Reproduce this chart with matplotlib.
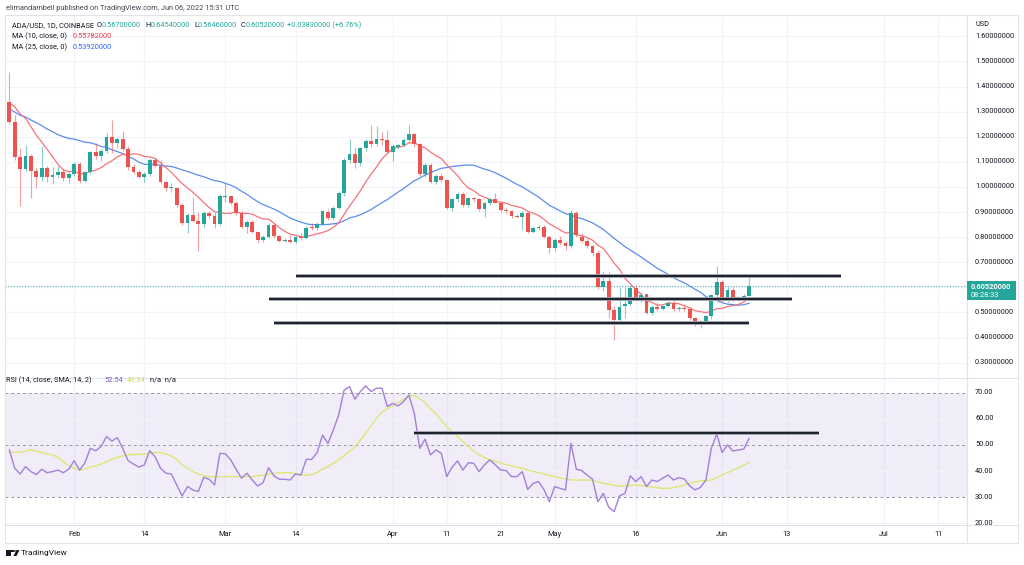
import numpy as np
import matplotlib
matplotlib.use('Agg')
import matplotlib.pyplot as plt
import pandas as pd
from matplotlib.patches import Rectangle, Polygon, Circle
from matplotlib.lines import Line2D

plt.rcParams['font.family'] = ['Roboto', 'DejaVu Sans']

# ---------------- data ----------------
start_date = '2022-01-20'

opens = [1.340, 1.260, 1.121, 1.070, 1.125, 1.065, 1.041, 1.077, 1.041, 1.046,
         1.058, 1.034, 1.052, 1.093, 1.024, 1.058, 1.139, 1.124, 1.144, 1.198,
         1.176, 1.193, 1.150, 1.078, 1.060, 1.041, 1.050, 1.108, 1.084, 1.019,
         0.995, 0.997, 0.928, 0.855, 0.888, 0.864, 0.852, 0.897, 0.884, 0.852,
         0.960, 0.963, 0.937, 0.898, 0.841, 0.861, 0.821, 0.788, 0.799, 0.848,
         0.804, 0.786, 0.789, 0.782, 0.800, 0.797, 0.840, 0.836, 0.853, 0.901,
         0.875, 0.918, 0.975, 1.108, 1.131, 1.094, 1.154, 1.184, 1.170, 1.190,
         1.187, 1.141, 1.158, 1.167, 1.187, 1.211, 1.171, 1.052, 1.088, 1.021,
         1.044, 1.028, 0.918, 0.951, 0.971, 0.928, 0.955, 0.951, 0.911, 0.935,
         0.951, 0.938, 0.908, 0.904, 0.884, 0.882, 0.895, 0.822, 0.838, 0.842,
         0.802, 0.756, 0.789, 0.776, 0.765, 0.898, 0.800, 0.785, 0.763, 0.738,
         0.600, 0.625, 0.510, 0.470, 0.526, 0.534, 0.596, 0.553, 0.572, 0.499,
         0.523, 0.513, 0.526, 0.537, 0.513, 0.517, 0.513, 0.477, 0.450, 0.465,
         0.485, 0.570, 0.623, 0.547, 0.590, 0.555, 0.560, 0.567]
highs = [1.459, 1.287, 1.154, 1.167, 1.130, 1.075, 1.163, 1.085, 1.080, 1.083,
         1.070, 1.060, 1.100, 1.098, 1.065, 1.145, 1.175, 1.150, 1.214, 1.267,
         1.200, 1.223, 1.163, 1.090, 1.068, 1.058, 1.114, 1.115, 1.108, 1.025,
         1.015, 1.000, 0.935, 0.895, 0.962, 0.900, 0.905, 0.905, 0.900, 0.970,
         1.015, 0.968, 0.945, 0.905, 0.868, 0.868, 0.826, 0.808, 0.855, 0.854,
         0.810, 0.798, 0.810, 0.805, 0.815, 0.845, 0.855, 0.860, 0.910, 0.912,
         0.925, 0.985, 1.115, 1.190, 1.161, 1.160, 1.190, 1.247, 1.243, 1.220,
         1.227, 1.170, 1.172, 1.195, 1.247, 1.216, 1.175, 1.095, 1.095, 1.052,
         1.055, 1.032, 0.958, 0.980, 0.978, 0.962, 0.962, 0.958, 0.940, 0.958,
         0.974, 0.942, 0.915, 0.910, 0.892, 0.905, 0.900, 0.845, 0.850, 0.848,
         0.808, 0.795, 0.805, 0.785, 0.910, 0.905, 0.815, 0.795, 0.770, 0.749,
         0.663, 0.663, 0.525, 0.603, 0.603, 0.610, 0.610, 0.580, 0.575, 0.530,
         0.540, 0.530, 0.545, 0.555, 0.525, 0.525, 0.518, 0.482, 0.470, 0.490,
         0.575, 0.685, 0.630, 0.600, 0.603, 0.565, 0.575, 0.6454]
lows = [1.250, 1.108, 0.924, 1.065, 0.955, 0.995, 1.025, 1.020, 1.010, 1.034,
        1.025, 1.015, 1.045, 1.015, 1.020, 1.050, 1.110, 1.105, 1.135, 1.135,
        1.155, 1.145, 1.068, 1.050, 1.034, 1.020, 1.045, 1.080, 1.010, 0.985,
        0.980, 0.920, 0.850, 0.815, 0.860, 0.746, 0.840, 0.875, 0.835, 0.845,
        0.940, 0.930, 0.890, 0.835, 0.815, 0.815, 0.778, 0.782, 0.795, 0.798,
        0.780, 0.780, 0.776, 0.776, 0.790, 0.793, 0.830, 0.830, 0.848, 0.868,
        0.870, 0.912, 0.965, 1.095, 1.074, 1.085, 1.145, 1.160, 1.165, 1.167,
        1.135, 1.105, 1.150, 1.160, 1.180, 1.160, 1.045, 1.040, 1.015, 1.010,
        1.020, 0.912, 0.905, 0.940, 0.922, 0.920, 0.940, 0.905, 0.880, 0.928,
        0.935, 0.900, 0.895, 0.878, 0.875, 0.829, 0.815, 0.815, 0.830, 0.795,
        0.736, 0.745, 0.768, 0.750, 0.755, 0.800, 0.775, 0.755, 0.725, 0.595,
        0.585, 0.480, 0.390, 0.465, 0.480, 0.525, 0.545, 0.540, 0.495, 0.490,
        0.505, 0.508, 0.520, 0.505, 0.505, 0.505, 0.470, 0.445, 0.440, 0.455,
        0.475, 0.560, 0.540, 0.540, 0.545, 0.545, 0.550, 0.5646]
closes = [1.260, 1.121, 1.070, 1.125, 1.065, 1.041, 1.077, 1.041, 1.046, 1.058,
          1.034, 1.052, 1.093, 1.024, 1.058, 1.139, 1.124, 1.144, 1.198, 1.176,
          1.193, 1.150, 1.078, 1.060, 1.041, 1.050, 1.108, 1.084, 1.019, 0.995,
          0.997, 0.928, 0.855, 0.888, 0.864, 0.852, 0.897, 0.884, 0.852, 0.963,
          0.963, 0.937, 0.898, 0.841, 0.861, 0.821, 0.788, 0.799, 0.848, 0.804,
          0.786, 0.789, 0.782, 0.799, 0.797, 0.838, 0.836, 0.853, 0.904, 0.875,
          0.918, 0.975, 1.108, 1.131, 1.094, 1.154, 1.184, 1.170, 1.190, 1.187,
          1.141, 1.163, 1.167, 1.187, 1.211, 1.171, 1.052, 1.088, 1.021, 1.044,
          1.028, 0.918, 0.951, 0.971, 0.928, 0.955, 0.951, 0.911, 0.935, 0.951,
          0.938, 0.908, 0.904, 0.884, 0.882, 0.895, 0.822, 0.838, 0.842, 0.802,
          0.756, 0.789, 0.776, 0.765, 0.898, 0.809, 0.785, 0.763, 0.738, 0.600,
          0.625, 0.510, 0.470, 0.523, 0.534, 0.596, 0.553, 0.570, 0.499, 0.523,
          0.513, 0.526, 0.537, 0.513, 0.517, 0.513, 0.477, 0.450, 0.465, 0.485,
          0.570, 0.623, 0.547, 0.590, 0.555, 0.560, 0.567, 0.6052]
# closes before the first visible candle (Dec 27 - Jan 19), used only to warm up the moving averages
prior_closes = [1.44, 1.38, 1.30, 1.36, 1.31, 1.38, 1.37, 1.31, 1.35, 1.24, 1.22, 1.17,
                1.17, 1.22, 1.19, 1.29, 1.35, 1.30, 1.40, 1.38, 1.35, 1.33, 1.34, 1.36]

rsi = [48.1, 41.1, 38.9, 41.7, 39.8, 38.7, 40.7, 39.4, 39.8, 40.4,
       39.4, 40.7, 44.0, 40.4, 43.2, 48.7, 47.8, 49.4, 53.2, 51.5,
       52.8, 48.7, 44.0, 42.7, 41.5, 42.4, 47.8, 45.5, 41.1, 39.2,
       38.9, 34.7, 30.5, 34.1, 32.8, 32.2, 37.6, 36.9, 34.7, 46.8,
       46.6, 44.3, 40.7, 37.3, 39.2, 36.6, 34.3, 35.6, 41.3, 38.2,
       36.9, 36.9, 36.6, 38.9, 38.5, 44.5, 44.5, 47.1, 53.8, 50.6,
       55.7, 61.5, 71.0, 72.3, 67.5, 70.4, 72.6, 70.4, 71.7, 71.7,
       64.7, 65.9, 64.9, 66.6, 69.1, 62.1, 48.7, 52.2, 46.2, 48.1,
       46.8, 37.9, 41.5, 43.9, 40.4, 43.2, 43.0, 39.8, 42.4, 44.3,
       42.4, 40.4, 40.2, 37.9, 37.9, 39.8, 33.0, 35.3, 36.0, 33.0,
       28.3, 34.1, 33.4, 32.8, 50.6, 40.7, 40.2, 38.5, 36.9, 28.3,
       31.5, 26.2, 24.5, 30.5, 31.5, 38.2, 36.0, 37.9, 34.1, 36.6,
       36.0, 37.3, 38.5, 36.6, 37.5, 37.0, 34.3, 32.8, 33.8, 36.6,
       48.7, 54.2, 47.1, 50.0, 47.7, 48.1, 48.4, 52.54]
rsi_sma = [47.2, 47.2, 47.2, 47.6, 48.1, 47.7, 47.1, 46.6, 46.2, 45.3,
           43.6, 42.0, 41.1, 40.4, 40.8, 41.5, 42.0, 42.7, 43.6, 44.5,
           45.3, 45.8, 46.2, 46.3, 46.4, 46.6, 46.8, 47.1, 47.1, 46.6,
           45.8, 44.5, 42.4, 41.1, 39.8, 38.9, 38.2, 37.9, 37.9, 37.9,
           37.9, 37.9, 37.9, 37.9, 37.9, 37.9, 38.2, 38.4, 38.8, 39.2,
           39.4, 39.4, 39.4, 39.0, 38.6, 38.4, 38.7, 39.4, 40.8, 41.7,
           43.0, 44.3, 45.9, 47.6, 49.4, 51.7, 54.5, 57.4, 60.2, 62.5,
           63.9, 65.0, 66.2, 67.5, 68.6, 68.9, 67.7, 66.3, 63.6, 62.1,
           59.3, 57.0, 55.1, 53.2, 51.3, 49.4, 47.7, 46.2, 45.2, 44.3,
           43.8, 43.1, 42.5, 42.0, 41.5, 41.1, 40.4, 39.9, 39.4, 38.9,
           38.4, 37.9, 37.4, 36.9, 36.6, 36.6, 36.6, 36.6, 36.5, 36.0,
           35.3, 35.0, 34.5, 34.3, 34.3, 34.5, 34.7, 34.5, 34.2, 34.0,
           33.6, 33.4, 33.4, 33.7, 34.1, 34.7, 35.2, 35.9, 36.2, 36.4,
           36.6, 37.5, 38.5, 39.4, 40.4, 41.3, 42.2, 43.34]

price_ticks = [0.3, 0.4, 0.5, 0.6, 0.7, 0.8, 0.9, 1.0, 1.1, 1.2, 1.3, 1.4, 1.5, 1.6]
rsi_ticks = [20, 30, 40, 50, 60, 70]
time_tick_dates = ['2022-02-01', '2022-02-14', '2022-03-01', '2022-03-14', '2022-04-01',
                   '2022-04-11', '2022-04-21', '2022-05-01', '2022-05-16', '2022-06-01',
                   '2022-06-13', '2022-07-01', '2022-07-11']
time_tick_labels = ['Feb', '14', 'Mar', '14', 'Apr', '11', '21', 'May', '16', 'Jun', '13', 'Jul', '11']

# hand-drawn horizontal levels (price, start date, end date)
level_prices = [0.645, 0.554, 0.458]
level_starts = ['2022-03-14', '2022-03-09', '2022-03-10']
level_ends = ['2022-06-23', '2022-06-14', '2022-06-06']
rsi_level = 54.6
rsi_level_start = '2022-04-05'
rsi_level_end = '2022-06-19'

last_price = 0.6052

# ---------------- helpers ----------------
W, H = 1024, 565
t0 = pd.Timestamp(start_date)


def day_index(d):
    return (pd.Timestamp(d) - t0).days


def fx(x):
    return x / W


def fy(y):
    return 1 - y / H


def rect(x0, y0, x1, y1):
    return [fx(x0), fy(y1), (x1 - x0) / W, (y1 - y0) / H]


UP = '#26a69a'
DOWN = '#ef5350'
GRID = '#f0f3fa'
BORDER = '#e0e3eb'
TXT = '#131722'
FS = 5.3

fig = plt.figure(figsize=(W / 100, H / 100), dpi=100)
fig.patch.set_facecolor('white')

ax = fig.add_axes(rect(5, 15, 967, 378))
ax2 = fig.add_axes(rect(5, 378, 967, 525))

n = len(closes)
xs = np.arange(n)
xlim = (-0.8, 177.35)

for a in (ax, ax2):
    a.set_xlim(*xlim)
    for s in a.spines.values():
        s.set_visible(False)
    a.set_xticks([])
    a.set_yticks([])
    a.set_facecolor('white')

tick_x = [day_index(d) for d in time_tick_dates]

# price pane
ax.set_ylim(0.239, 1.685)
for p in price_ticks:
    ax.axhline(p, color=GRID, lw=0.8, zorder=0)
for tx in tick_x:
    ax.axvline(tx, color=GRID, lw=0.8, zorder=0)
    ax2.axvline(tx, color=GRID, lw=0.8, zorder=0)

# moving averages
all_closes = pd.Series(prior_closes + closes)
ma10 = all_closes.rolling(10).mean().values[len(prior_closes):]
ma25 = all_closes.rolling(25).mean().values[len(prior_closes):]
ax.plot(xs, ma25, color='#5b8def', lw=0.9, zorder=2)
ax.plot(xs, ma10, color='#f7727a', lw=0.9, zorder=2)

# candles
for i in range(n):
    o, h, l, c = opens[i], highs[i], lows[i], closes[i]
    col = UP if c >= o else DOWN
    ax.vlines(i, l, h, color=col, lw=0.8, alpha=0.55, zorder=3)
    bot = min(o, c)
    hgt = max(abs(c - o), 0.003)
    ax.add_patch(Rectangle((i - 0.36, bot), 0.72, hgt, facecolor=col, edgecolor='none', zorder=4))

# last price dotted line
ax.axhline(last_price, color=UP, lw=0.8, ls=(0, (1, 1.5)), alpha=0.8, zorder=2)

# drawn levels
for p, s, e in zip(level_prices, level_starts, level_ends):
    x0, x1 = day_index(s), day_index(e)
    ax.plot([x0, x1], [p, p], color='#b2b5be', lw=2.8, solid_capstyle='butt', zorder=5)
    ax.plot([x0, x1], [p, p], color='#1e222d', lw=1.6, solid_capstyle='butt', zorder=6)

# RSI pane
ax2.set_ylim(19.4, 75.6)
ax2.axhspan(30, 70, color='#7e57c2', alpha=0.1, lw=0, zorder=0)
for v in (40, 60, 20):
    ax2.axhline(v, color=GRID, lw=0.8, zorder=0)
for v in (30, 50, 70):
    ax2.axhline(v, color='#9598a1', lw=0.7, ls=(0, (3, 3)), zorder=1)
ax2.plot(xs, rsi_sma, color='#dce775', lw=1.0, zorder=2)
ax2.plot(xs, rsi, color='#a47fd9', lw=1.0, zorder=3)
x0, x1 = day_index(rsi_level_start), day_index(rsi_level_end)
ax2.plot([x0, x1], [rsi_level, rsi_level], color='#b2b5be', lw=2.8, solid_capstyle='butt', zorder=5)
ax2.plot([x0, x1], [rsi_level, rsi_level], color='#1e222d', lw=1.6, solid_capstyle='butt', zorder=6)

# right axis labels (the 0.6 label sits under the last-price box, as in the original)
for p in price_ticks:
    if abs(p - last_price) < 0.03:
        continue
    ax.text(1 + 8 / 962, p, f'{p:.8f}', transform=ax.get_yaxis_transform(),
            fontsize=FS, color=TXT, va='center', ha='left', clip_on=False)
for v in rsi_ticks:
    ax2.text(1 + 8 / 962, v, f'{v:.2f}', transform=ax2.get_yaxis_transform(),
             fontsize=FS, color=TXT, va='center', ha='left', clip_on=False)

fig.text(fx(975), fy(24), 'USD', fontsize=FS, color=TXT, va='center', ha='left')

# current price box
box_y = 61.5 + (1.5 - last_price) * 251
fig.add_artist(Rectangle((fx(967), fy(box_y + 14)), 49 / W, 19 / H,
                         transform=fig.transFigure, facecolor=UP, edgecolor='none', zorder=10))
fig.text(fx(971), fy(box_y + 1), f'{last_price:.8f}', fontsize=FS, color='white',
         va='center', ha='left', zorder=11, fontweight='bold')
fig.text(fx(971), fy(box_y + 9.5), '08:28:33', fontsize=FS, color='white',
         va='center', ha='left', zorder=11)

# time axis labels
for tx, lab in zip(tick_x, time_tick_labels):
    xp = 9.3 + 5.4 * tx
    fig.text(fx(xp), fy(535), lab, fontsize=FS, color=TXT, va='center', ha='center')

# frame lines
def hline(y, x0, x1, col=BORDER, lw=0.8):
    fig.add_artist(Line2D([fx(x0), fx(x1)], [fy(y), fy(y)], color=col, lw=lw, transform=fig.transFigure))


def vline(x, y0, y1, col=BORDER, lw=0.8):
    fig.add_artist(Line2D([fx(x), fx(x)], [fy(y0), fy(y1)], color=col, lw=lw, transform=fig.transFigure))


hline(15, 5, 1018)
hline(378, 5, 1018)
hline(525, 5, 1018)
hline(543, 5, 1018)
vline(5, 15, 543)
vline(1018, 15, 543)
vline(967, 15, 543)

# header texts
renderer = fig.canvas.get_renderer()


def rich(x, y, parts, size=FS):
    cx = x
    for s, col in parts:
        t = fig.text(fx(cx), fy(y), s, color=col, fontsize=size, va='center', ha='left')
        bb = t.get_window_extent(renderer=renderer)
        cx += bb.width


fig.text(fx(6), fy(8), 'elimandambell published on TradingView.com, Jun 06, 2022 15:31 UTC',
         fontsize=FS, color='#434651', va='center', ha='left')

hdr = '#131722'
fig.text(fx(11.7), fy(25.5), 'ADA/USD, 1D, COINBASE', fontsize=FS, color=hdr, va='center', ha='left')
rich(96.7, 25.5, [('O', hdr), ('0.56700000', UP)])
rich(145.7, 25.5, [('H', hdr), ('0.64540000', UP)])
rich(194, 25.5, [('L', hdr), ('0.56460000', UP)])
rich(240.7, 25.5, [('C', hdr), ('0.60520000', UP)])
fig.text(fx(286.7), fy(25.5), '+0.03830000 (+6.76%)', fontsize=FS, color=UP, va='center', ha='left')

fig.text(fx(11.7), fy(36.5), 'MA (10, close, 0)', fontsize=FS, color=hdr, va='center', ha='left')
fig.text(fx(72.3), fy(36.5), '0.55782000', fontsize=FS, color='#f23645', va='center', ha='left')
fig.text(fx(11.7), fy(47.5), 'MA (25, close, 0)', fontsize=FS, color=hdr, va='center', ha='left')
fig.text(fx(72.3), fy(47.5), '0.53920000', fontsize=FS, color='#2962ff', va='center', ha='left')

fig.text(fx(6), fy(380), 'RSI (14, close, SMA, 14, 2)', fontsize=FS, color=hdr, va='center', ha='left')
fig.text(fx(104), fy(380), f'{rsi[-1]:.2f}', fontsize=FS, color='#7e57c2', va='center', ha='left')
fig.text(fx(127), fy(380), f'{rsi_sma[-1]:.2f}', fontsize=FS, color='#cddc39', va='center', ha='left')
fig.text(fx(150), fy(380), 'n/a  n/a', fontsize=FS, color=hdr, va='center', ha='left')

# TradingView logo
fig.add_artist(Rectangle((fx(6), fy(556)), 5 / W, 6 / H, transform=fig.transFigure,
                         facecolor='#131722', edgecolor='none'))
fig.add_artist(Rectangle((fx(6), fy(552)), 8 / W, 2 / H, transform=fig.transFigure,
                         facecolor='#131722', edgecolor='none'))
fig.add_artist(Polygon([[fx(13.5), fy(556)], [fx(16.5), fy(550)], [fx(19.5), fy(550)], [fx(16.5), fy(556)]],
                       closed=True, transform=fig.transFigure, facecolor='#131722', edgecolor='none'))
fig.add_artist(Circle((fx(15), fy(551)), 1.2 / W, transform=fig.transFigure, facecolor='#131722'))
fig.text(fx(21), fy(553.5), 'TradingView', fontsize=6.0, color='#131722', va='center', ha='left')

fig.savefig('out.png', dpi=100, facecolor='white')
